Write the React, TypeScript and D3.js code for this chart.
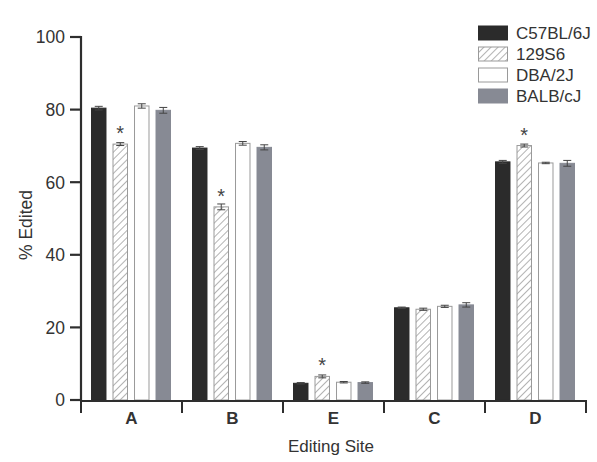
import React from "react";
import * as d3 from "d3";

const sites = ["A", "B", "E", "C", "D"];
const strains = ["C57BL/6J", "129S6", "DBA/2J", "BALB/cJ"];
const c57 = [80.4, 69.4, 4.6, 25.4, 65.6];
const s129 = [70.5, 53.2, 6.5, 25.0, 70.1];
const dba = [81.0, 70.7, 4.9, 25.8, 65.3];
const balb = [79.8, 69.6, 4.8, 26.2, 65.2];
const c57Err = [0.5, 0.4, 0.2, 0.2, 0.4];
const s129Err = [0.4, 0.8, 0.4, 0.3, 0.4];
const dbaErr = [0.6, 0.5, 0.2, 0.3, 0.2];
const balbErr = [0.8, 0.7, 0.2, 0.6, 0.8];
const significant = [true, true, true, false, true];
const yTicks = [0, 20, 40, 60, 80, 100];

const series = [c57, s129, dba, balb];
const errs = [c57Err, s129Err, dbaErr, balbErr];
const fills = ["#2b2b2b", "url(#hatch)", "#ffffff", "#878a94"];
const strokes = ["#2b2b2b", "#9a9a9a", "#9a9a9a", "#878a94"];

export default function App() {
  const W = 597, H = 462;
  const x0 = d3.scaleBand<string>().domain(sites).range([81, 586]).paddingInner(0).paddingOuter(0);
  const x1 = d3.scaleBand<string>().domain(strains).range([10, x0.bandwidth() - 11]).paddingInner(0.28).paddingOuter(0);
  const y = d3.scaleLinear().domain([0, 100]).range([400, 37]);
  const font = "Liberation Sans, Arial, sans-serif";
  const txt = "#333";
  const axisCol = "#2e2e2e";

  return (
    <svg width={W} height={H} style={{ position: "absolute", left: 0, top: 0, background: "#fff" }}>
      <defs>
        <pattern id="hatch" patternUnits="userSpaceOnUse" width="5" height="5" patternTransform="rotate(45)">
          <rect width="5" height="5" fill="#fff" />
          <line x1="0" y1="0" x2="0" y2="5" stroke="#8a8a8a" strokeWidth="1.3" />
        </pattern>
      </defs>
      {/* bars */}
      {sites.map((s, i) => (
        <g key={s} transform={`translate(${x0(s)},0)`}>
          {strains.map((st, j) => {
            const v = series[j][i];
            const e = errs[j][i];
            const bx = x1(st)!;
            const bw = x1.bandwidth();
            const cx = bx + bw / 2;
            return (
              <g key={st}>
                <rect x={bx + 0.5} y={y(v)} width={bw - 1} height={y(0) - y(v)} fill={fills[j]} stroke={strokes[j]} strokeWidth={1} />
                <line x1={cx} x2={cx} y1={y(v + e)} y2={y(v - e)} stroke="#444" strokeWidth={1} />
                <line x1={cx - 4} x2={cx + 4} y1={y(v + e)} y2={y(v + e)} stroke="#444" strokeWidth={1} />
                <line x1={cx - 4} x2={cx + 4} y1={y(v - e)} y2={y(v - e)} stroke="#444" strokeWidth={1} />
                {j === 1 && significant[i] && (
                  <text x={cx} y={y(v) - 4} textAnchor="middle" fontFamily={font} fontSize={20} fill="#444">*</text>
                )}
              </g>
            );
          })}
        </g>
      ))}
      {/* y axis */}
      <line x1={81} x2={81} y1={y(100) - 1} y2={401} stroke={axisCol} strokeWidth={2.2} />
      {yTicks.map((t) => (
        <g key={t}>
          <line x1={70} x2={81} y1={y(t)} y2={y(t)} stroke={axisCol} strokeWidth={2.2} />
          <text x={65} y={y(t)} dy="0.36em" textAnchor="end" fontFamily={font} fontSize={17.5} fill={txt}>{t}</text>
        </g>
      ))}
      {/* x axis */}
      <line x1={80} x2={587} y1={401} y2={401} stroke={axisCol} strokeWidth={2.2} />
      {[...sites.map((s) => x0(s)!), 586].map((p, k) => (
        <line key={k} x1={p} x2={p} y1={400} y2={413} stroke={axisCol} strokeWidth={2} />
      ))}
      {sites.map((s) => (
        <text key={s} x={x0(s)! + x0.bandwidth() / 2} y={424} textAnchor="middle" fontFamily={font} fontWeight="bold" fontSize={17} fill={txt}>{s}</text>
      ))}
      <text x={331} y={452} textAnchor="middle" fontFamily={font} fontSize={17} fill={txt}>Editing Site</text>
      <text transform="translate(32,225) rotate(-90)" textAnchor="middle" fontFamily={font} fontSize={17.5} fill={txt}>% Edited</text>
      {/* legend */}
      {strains.map((st, j) => {
        const ly = 33 + j * 21;
        return (
          <g key={st}>
            <rect x={478.5} y={ly - 7} width={29} height={14} fill={fills[j]} stroke={strokes[j]} strokeWidth={1} />
            <text x={516} y={ly} dy="0.36em" fontFamily={font} fontSize={17} fill={txt}>{st}</text>
          </g>
        );
      })}
    </svg>
  );
}
